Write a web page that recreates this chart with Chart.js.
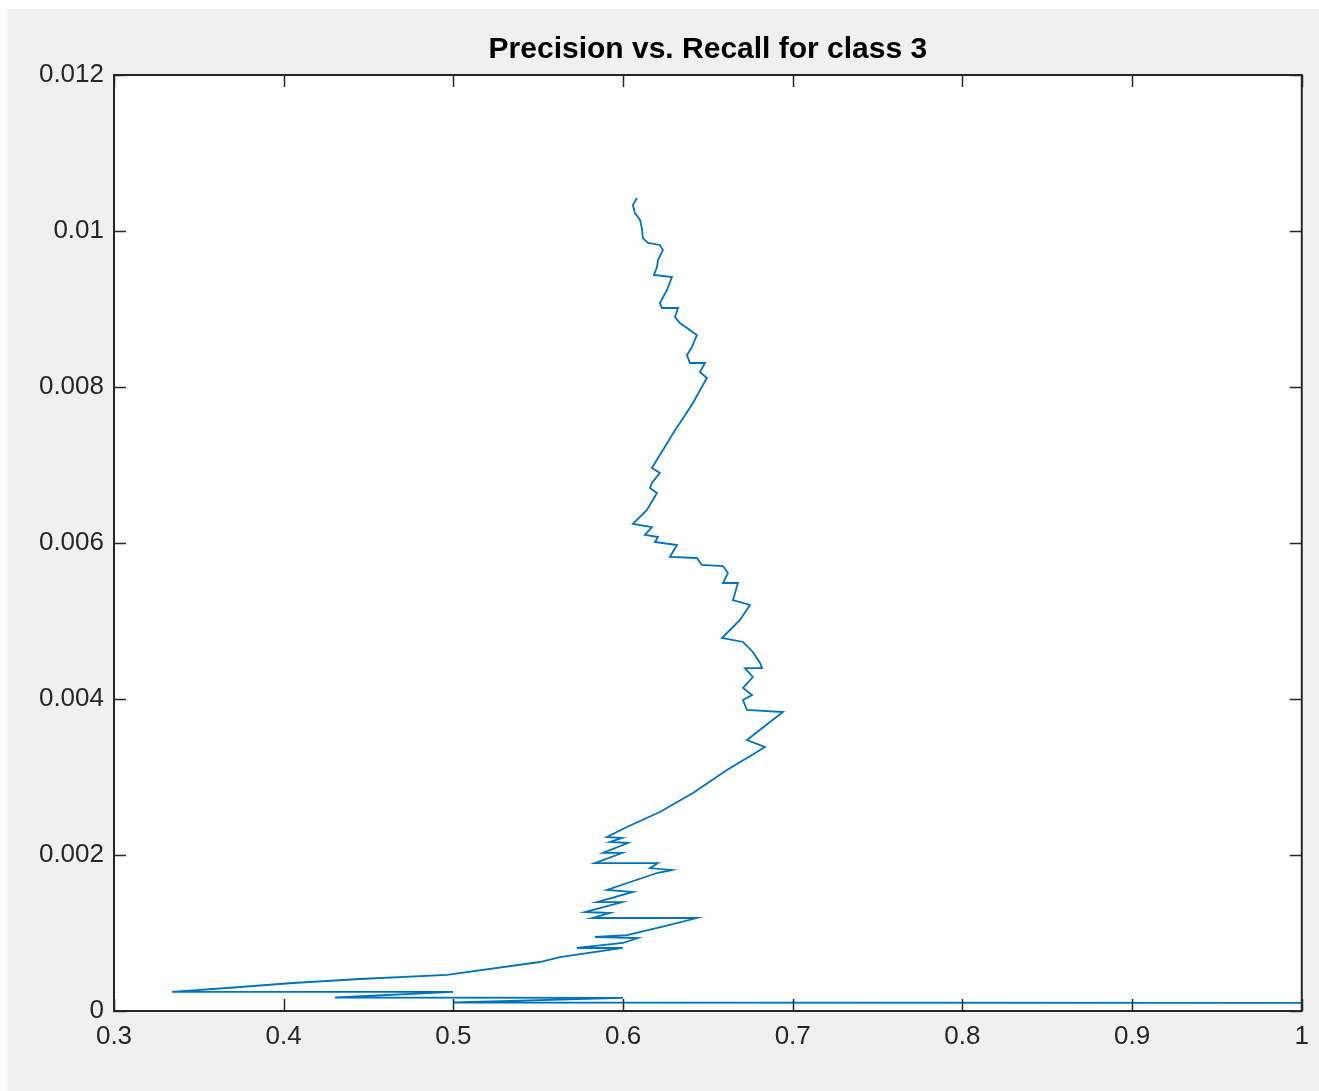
<!DOCTYPE html>
<html>
<head>
<meta charset="utf-8">
<title>Precision vs. Recall for class 3</title>
<script src="https://cdn.jsdelivr.net/npm/chart.js@4/dist/chart.umd.min.js"></script>
<style>
  html, body { margin: 0; padding: 0; background: #ffffff; }
  #figure { position: absolute; left: 7px; top: 9px; width: 1312px; height: 1082px; background: #f0f0f0; }
  #wrap { position: absolute; left: 0; top: 0; width: 1319px; height: 1091px; }
</style>
</head>
<body>
<div id="figure"></div>
<div id="wrap"><canvas id="prChart" width="1319" height="1091"></canvas></div>
<script>
// precision (x) and recall (y), from the top of the curve down
const precision = [
    0.6082, 0.6058, 0.6070, 0.6100, 0.6111, 0.6117, 0.6147, 0.6217, 0.6235, 0.6206,
    0.6200, 0.6182, 0.6288, 0.6259, 0.6217, 0.6229, 0.6324, 0.6306, 0.6335, 0.6377,
    0.6435, 0.6406, 0.6377, 0.6394, 0.6483, 0.6453, 0.6494,
    0.6412, 0.6335, 0.6318, 0.6235, 0.6188, 0.6170, 0.6217, 0.6170, 0.6159, 0.6200,
    0.6141, 0.6058, 0.6170, 0.6129, 0.6206, 0.6188, 0.6318, 0.6276, 0.6435, 0.6465,
    0.6589, 0.6618, 0.6589, 0.6677, 0.6648, 0.6748, 0.6689, 0.6583, 0.6707, 0.6765,
    0.6807, 0.6819, 0.6718, 0.6765, 0.6707, 0.6760, 0.6707, 0.6730, 0.6942, 0.6730,
    0.6836, 0.6789,
    0.6612, 0.6412, 0.6217, 0.6023, 0.5940, 0.5905,
    0.5994, 0.5923, 0.6029, 0.5882, 0.5994, 0.5834, 0.6206, 0.6159, 0.6288, 0.6200,
    0.5905, 0.6058, 0.5846, 0.5994, 0.5775, 0.5923, 0.5817, 0.6435, 0.6276, 0.6023,
    0.5834, 0.6088, 0.5999, 0.5728, 0.5999, 0.5628,
    0.5510, 0.4962, 0.4450, 0.4055, 0.3666, 0.3342,
    0.4998, 0.4302, 0.6000, 0.5000, 1.0000
];
const recall = [
    0.010423, 0.010333, 0.010231, 0.010141, 0.010038, 0.009910, 0.009846, 0.009821, 0.009756, 0.009628,
    0.009538, 0.009436, 0.009410, 0.009244, 0.009077, 0.009013, 0.009013, 0.008897, 0.008821, 0.008756,
    0.008667, 0.008513, 0.008410, 0.008308, 0.008308, 0.008192, 0.008115,
    0.007795, 0.007538, 0.007487, 0.007192, 0.007026, 0.006962, 0.006897, 0.006769, 0.006705, 0.006641,
    0.006423, 0.006244, 0.006205, 0.006103, 0.006077, 0.006013, 0.005974, 0.005821, 0.005808, 0.005718,
    0.005705, 0.005615, 0.005487, 0.005487, 0.005269, 0.005205, 0.005013, 0.004782, 0.004731, 0.004603,
    0.004462, 0.004397, 0.004397, 0.004282, 0.004141, 0.004051, 0.003987, 0.003859, 0.003833, 0.003474,
    0.003385, 0.003321,
    0.003090, 0.002795, 0.002551, 0.002359, 0.002269, 0.002231,
    0.002218, 0.002167, 0.002154, 0.002026, 0.002026, 0.001897, 0.001897, 0.001833, 0.001808, 0.001769,
    0.001551, 0.001526, 0.001397, 0.001397, 0.001269, 0.001256, 0.001192, 0.001192, 0.001103, 0.000974,
    0.000949, 0.000936, 0.000872, 0.000808, 0.000808, 0.000692,
    0.000628, 0.000462, 0.000410, 0.000359, 0.000295, 0.000244,
    0.000244, 0.000173, 0.000167, 0.000109, 0.000103
];
const xTicks = { min: 0.3, max: 1, step: 0.1 };
const yTicks = { min: 0, max: 0.012, step: 0.002 };
const titleText = 'Precision vs. Recall for class 3';

const axisColor = '#262626';

// white axes box, closed frame, inward tick marks and a title centred on the axes
const boxPlugin = {
    id: 'box',
    beforeDraw(chart) {
        const { ctx, chartArea: a } = chart;
        ctx.save();
        ctx.fillStyle = '#ffffff';
        ctx.fillRect(a.left, a.top, a.right - a.left, a.bottom - a.top);
        ctx.restore();
    },
    afterDatasetsDraw(chart) {
        const { ctx, chartArea: a, scales } = chart;
        const len = 12;
        ctx.save();
        ctx.strokeStyle = axisColor;
        ctx.lineWidth = 1.5;
        ctx.beginPath();
        scales.x.ticks.forEach(t => {
            const px = Math.round(scales.x.getPixelForValue(t.value)) + 0.5;
            ctx.moveTo(px, a.bottom); ctx.lineTo(px, a.bottom - len);
            ctx.moveTo(px, a.top); ctx.lineTo(px, a.top + len);
        });
        scales.y.ticks.forEach(t => {
            const py = Math.round(scales.y.getPixelForValue(t.value)) + 0.5;
            ctx.moveTo(a.left, py); ctx.lineTo(a.left + len, py);
            ctx.moveTo(a.right, py); ctx.lineTo(a.right - len, py);
        });
        ctx.stroke();
        ctx.lineWidth = 2;
        ctx.strokeRect(a.left, a.top, a.right - a.left, a.bottom - a.top);

        ctx.fillStyle = '#000000';
        ctx.font = 'bold 30px "Liberation Sans"';
        ctx.textAlign = 'center';
        ctx.textBaseline = 'middle';
        ctx.fillText(titleText, (a.left + a.right) / 2, 50);
        ctx.restore();
    }
};

function fmt(v) {
    return String(Number(v.toFixed(4)));
}

const ctx = document.getElementById('prChart').getContext('2d');
new Chart(ctx, {
    type: 'scatter',
    data: {
        datasets: [{
            label: 'class 3',
            data: precision.map((p, i) => ({ x: p, y: recall[i] })),
            showLine: true,
            borderColor: '#0072BD',
            borderWidth: 1.8,
            pointRadius: 0,
            tension: 0
        }]
    },
    options: {
        responsive: false,
        animation: false,
        layout: { padding: { left: 0, right: 17, top: 75, bottom: 0 } },
        plugins: {
            legend: { display: false },
            tooltip: { enabled: false },
            title: { display: false }
        },
        scales: {
            x: {
                type: 'linear',
                min: xTicks.min,
                max: xTicks.max,
                grid: { display: false, drawTicks: false },
                border: { display: false },
                ticks: {
                    stepSize: xTicks.step,
                    color: axisColor,
                    padding: 10,
                    maxRotation: 0,
                    font: { family: 'Liberation Sans', size: 26 },
                    callback: v => fmt(v)
                },
                afterFit(scale) { scale.height = 80; }
            },
            y: {
                type: 'linear',
                min: yTicks.min,
                max: yTicks.max,
                grid: { display: false, drawTicks: false },
                border: { display: false },
                ticks: {
                    stepSize: yTicks.step,
                    color: axisColor,
                    padding: 10,
                    font: { family: 'Liberation Sans', size: 26 },
                    callback: v => fmt(v)
                },
                afterFit(scale) { scale.width = 114; }
            }
        }
    },
    plugins: [boxPlugin]
});
</script>
</body>
</html>
